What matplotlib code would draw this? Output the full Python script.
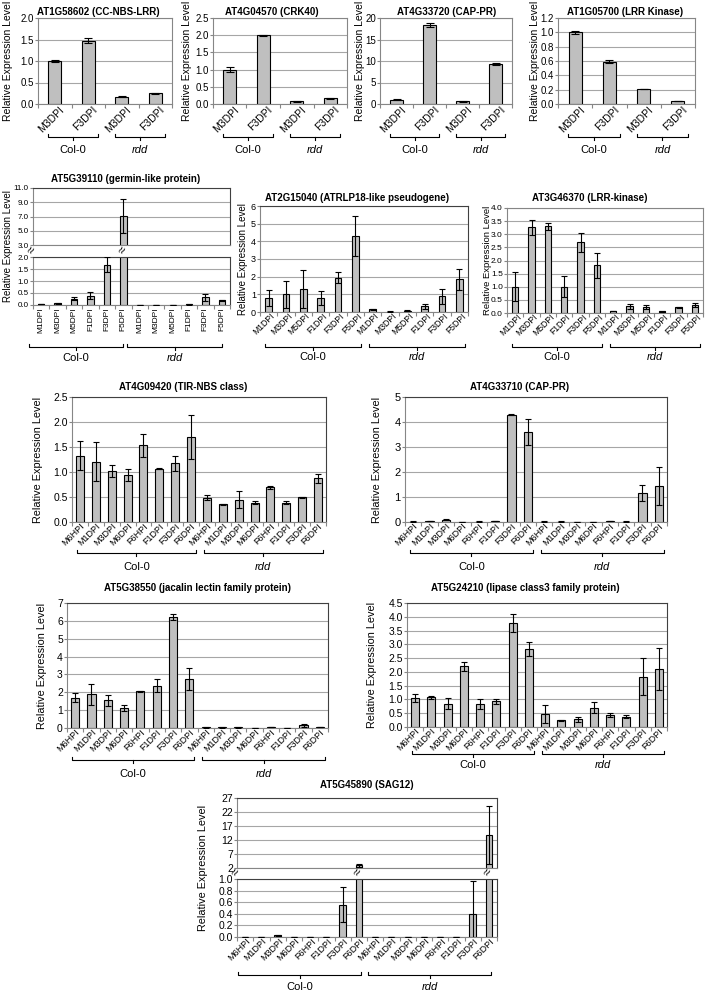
import numpy as np
import matplotlib
matplotlib.use('Agg')
import matplotlib.pyplot as plt
from matplotlib.transforms import blended_transform_factory, ScaledTranslation

plt.rcParams['font.family'] = ['Liberation Sans', 'DejaVu Sans']

# ---------------- data ----------------
lab_short = ['M3DPI', 'F3DPI', 'M3DPI', 'F3DPI']
lab_dpi = ['M1DPI', 'M3DPI', 'M5DPI', 'F1DPI', 'F3DPI', 'F5DPI'] * 2
lab_hpi = ['M6HPI', 'M1DPI', 'M3DPI', 'M6DPI', 'F6HPI', 'F1DPI', 'F3DPI', 'F6DPI'] * 2

# top row (M3DPI / F3DPI, Col-0 then rdd)
at1g58602 = [1.0, 1.47, 0.17, 0.25]
at1g58602_err = [0.02, 0.06, 0.01, 0.01]
at4g04570 = [1.0, 2.0, 0.08, 0.16]
at4g04570_err = [0.08, 0.01, 0.01, 0.02]
at4g33720 = [1.0, 18.4, 0.6, 9.3]
at4g33720_err = [0.05, 0.4, 0.05, 0.3]
at1g05700 = [1.0, 0.59, 0.21, 0.04]
at1g05700_err = [0.02, 0.02, 0.005, 0.005]

# second row (1/3/5 DPI)
at5g39110 = [0.05, 0.08, 0.27, 0.38, 1.68, 7.1, 0.0, 0.0, 0.0, 0.03, 0.32, 0.2]
at5g39110_err = [0.01, 0.02, 0.08, 0.15, 0.3, 2.4, 0, 0, 0, 0.01, 0.14, 0.02]
at2g15040 = [0.8, 1.0, 1.3, 0.8, 1.95, 4.3, 0.15, 0.02, 0.07, 0.33, 0.9, 1.85]
at2g15040_err = [0.45, 0.78, 1.05, 0.4, 0.33, 1.12, 0.03, 0.01, 0.02, 0.15, 0.42, 0.58]
at3g46370 = [1.0, 3.27, 3.3, 1.0, 2.7, 1.82, 0.07, 0.25, 0.23, 0.06, 0.22, 0.3]
at3g46370_err = [0.55, 0.28, 0.12, 0.4, 0.36, 0.48, 0.01, 0.1, 0.07, 0.01, 0.02, 0.07]

# 6HPI - 6DPI panels
at4g09420 = [1.33, 1.21, 1.02, 0.94, 1.54, 1.07, 1.18, 1.71, 0.49, 0.36, 0.45, 0.39, 0.70, 0.39, 0.50, 0.88]
at4g09420_err = [0.29, 0.39, 0.12, 0.12, 0.23, 0.01, 0.15, 0.44, 0.05, 0.01, 0.17, 0.03, 0.03, 0.03, 0.01, 0.09]
at4g33710 = [0.02, 0.03, 0.1, 0.0, 0.02, 0.04, 4.3, 3.62, 0.02, 0.02, 0.01, 0.01, 0.03, 0.02, 1.15, 1.45]
at4g33710_err = [0.005, 0.005, 0.03, 0, 0.005, 0.01, 0.02, 0.52, 0.005, 0.005, 0, 0, 0.005, 0.005, 0.32, 0.77]
at5g38550 = [1.7, 1.88, 1.55, 1.13, 2.05, 2.37, 6.2, 2.75, 0.03, 0.03, 0.03, 0.01, 0.04, 0.02, 0.15, 0.04]
at5g38550_err = [0.27, 0.58, 0.32, 0.15, 0.01, 0.35, 0.17, 0.6, 0.005, 0.005, 0.005, 0, 0.01, 0.005, 0.08, 0.01]
at5g24210 = [1.05, 1.08, 0.85, 2.2, 0.82, 0.93, 3.77, 2.83, 0.47, 0.25, 0.28, 0.7, 0.43, 0.38, 1.83, 2.1]
at5g24210_err = [0.15, 0.05, 0.2, 0.15, 0.18, 0.1, 0.33, 0.27, 0.32, 0.02, 0.1, 0.2, 0.06, 0.06, 0.68, 0.77]
at5g45890 = [0.005, 0.0, 0.03, 0.0, 0.002, 0.005, 0.56, 2.9, 0.0, 0.005, 0.003, 0.0, 0.003, 0.002, 0.4, 13.8]
at5g45890_err = [0, 0, 0.01, 0, 0, 0, 0.3, 0.5, 0, 0, 0, 0, 0, 0, 0.56, 10.2]

YLAB = 'Relative Expression Level'
BAR = '#BFBFBF'
GRID = '#A6A6A6'
SPINE = '#868686'

W, H = 709, 992
fig = plt.figure(figsize=(W / 100, H / 100), dpi=100)


def fy(ypx):
    return 1 - ypx / H


def add_ax(x0, y0, x1, y1):
    return fig.add_axes([x0 / W, 1 - y1 / H, (x1 - x0) / W, (y1 - y0) / H])


def bars(ax, vals, errs, width, cap):
    x = np.arange(len(vals))
    ax.bar(x, vals, width, color=BAR, edgecolor='black', linewidth=0.8, zorder=2)
    ax.errorbar(x, vals, yerr=errs, fmt='none', ecolor='black', elinewidth=0.8,
                capsize=cap, capthick=0.8, zorder=3)
    ax.set_xlim(-0.5, len(vals) - 0.5)


def yaxis(ax, lo, hi, step, fmt, fs, frame=SPINE):
    ticks = np.arange(lo, hi + step / 2, step)
    ax.set_ylim(lo, hi)
    ax.set_yticks(ticks)
    ax.set_yticklabels([fmt.format(t) for t in ticks], fontsize=fs)
    ax.yaxis.grid(True, color=GRID, lw=0.8)
    ax.set_axisbelow(True)
    ax.tick_params(axis='y', length=2, width=0.8, color=SPINE, pad=1)
    for s in ('left', 'bottom'):
        ax.spines[s].set_color(SPINE)
    for s in ('top', 'right'):
        ax.spines[s].set_color(frame)


def xaxis(ax, labels, fs, rot=45, dx=0, pad=3):
    n = len(labels)
    ax.set_xticks(np.arange(n))
    ax.set_xticks(np.arange(n + 1) - 0.5, minor=True)
    ax.tick_params(axis='x', which='major', length=0, pad=pad)
    ax.tick_params(axis='x', which='minor', length=3, width=0.8, color=SPINE)
    if rot == 90:
        tl = ax.set_xticklabels(labels, fontsize=fs, rotation=90, ha='center', va='top')
    else:
        tl = ax.set_xticklabels(labels, fontsize=fs, rotation=rot, ha='right',
                                va='center', rotation_mode='anchor')
    off = ScaledTranslation(dx / 100, 0, fig.dpi_scale_trans)
    for t in tl:
        t.set_transform(t.get_transform() + off)


def no_x(ax):
    ax.set_xticks([])
    ax.set_xticks([], minor=True)


def bracket(ax, i0, i1, ypx, lab_ypx, text, fs=8, lo=-0.2, hi=0.3):
    tr = blended_transform_factory(ax.transData, fig.transFigure)
    a, b = i0 + lo, i1 + hi
    y, d = fy(ypx), 3 / H
    ax.plot([a, a, b, b], [y + d, y, y, y + d], color='black', lw=0.8,
            transform=tr, clip_on=False)
    m = (a + b) / 2
    ax.plot([m, m], [y, y - d], color='black', lw=0.8, transform=tr, clip_on=False)
    ax.text(m, fy(lab_ypx), text, transform=tr, ha='center', va='center',
            fontsize=fs, style='italic' if text == 'rdd' else 'normal')


def groups(ax, n, ypx, lab_ypx, fs=8, lo=-0.2, hi=0.3):
    h = n // 2
    bracket(ax, 0, h - 1, ypx, lab_ypx, 'Col-0', fs, lo, hi)
    bracket(ax, h, n - 1, ypx, lab_ypx, 'rdd', fs, lo, hi)


def title(xpx, ypx, text):
    fig.text(xpx / W, fy(ypx), text, ha='center', va='center', fontsize=7, fontweight='bold')


def ylabel(xpx, ypx, fs=7.5):
    fig.text(xpx / W, fy(ypx), YLAB, rotation=90, ha='center', va='center', fontsize=fs)


def brk(ax, x, ypx):
    tr = blended_transform_factory(ax.transData, fig.transFigure)
    ax.text(x, fy(ypx), '≈', transform=tr, ha='center', va='center', fontsize=9,
            rotation=60, zorder=5, clip_on=False)


# ---------------- top row ----------------
top = [
    (at1g58602, at1g58602_err, (38, 172), 2.0, 0.5, '{:.1f}', 'AT1G58602 (CC-NBS-LRR)', 98, 8),
    (at4g04570, at4g04570_err, (213, 347), 2.5, 0.5, '{:.1f}', 'AT4G04570 (CRK40)', 272, 187),
    (at4g33720, at4g33720_err, (380, 512), 20, 5, '{:.0f}', 'AT4G33720 (CAP-PR)', 447, 360),
    (at1g05700, at1g05700_err, (558, 695), 1.2, 0.2, '{:.1f}', 'AT1G05700 (LRR Kinase)', 625, 535),
]
for vals, errs, (x0, x1), hi, step, fmt, ttl, tx, lx in top:
    ax = add_ax(x0, 18, x1, 104)
    bars(ax, vals, errs, 0.38, 3)
    yaxis(ax, 0, hi, step, fmt, 7)
    xaxis(ax, lab_short, 7.5, dx=8, pad=3)
    groups(ax, 4, 137, 150)
    title(tx, 12, ttl)
    ylabel(lx, 61, 7.5)

# ---------------- second row ----------------
# germin-like protein, broken axis
axt = add_ax(33, 188, 230, 245)
axb = add_ax(33, 257, 230, 305)
for a in (axt, axb):
    bars(a, at5g39110, at5g39110_err, 0.4, 2.5)
yaxis(axt, 3, 11, 2, '{:.1f}', 5.8, frame='#404040')
yaxis(axb, 0, 2, 0.5, '{:.1f}', 5.8, frame='#404040')
no_x(axt)
xaxis(axb, lab_dpi, 6, rot=90, pad=2)
groups(axb, 12, 347, 358, lo=-0.75, hi=0.0)
brk(axb, -0.5, 251)
brk(axb, 5, 251)
title(126, 179, 'AT5G39110 (germin-like protein)')
ylabel(8, 246, 7)

ax = add_ax(260, 206, 468, 312)
bars(ax, at2g15040, at2g15040_err, 0.4, 2.5)
yaxis(ax, 0, 6, 1, '{:.0f}', 6.5, frame='#404040')
xaxis(ax, lab_dpi, 6.2, dx=5, pad=2)
groups(ax, 12, 347, 357)
title(357, 198, 'AT2G15040 (ATRLP18-like pseudogene)')
ylabel(243, 259, 7)

ax = add_ax(507, 208, 703, 313)
bars(ax, at3g46370, at3g46370_err, 0.4, 2.5)
yaxis(ax, 0, 4, 0.5, '{:.1f}', 6)
xaxis(ax, lab_dpi, 6.2, dx=5, pad=2)
groups(ax, 12, 347, 357)
title(590, 198, 'AT3G46370 (LRR-kinase)')
ylabel(487, 260, 6.8)

# ---------------- third / fourth rows ----------------
mid = [
    (at4g09420, at4g09420_err, (72, 397, 326, 522), 2.5, 0.5, '{:.1f}', 7.5,
     'AT4G09420 (TIR-NBS class)', (183, 387), (38, 460), (553, 567)),
    (at4g33710, at4g33710_err, (405, 397, 667, 522), 5, 1, '{:.0f}', 8,
     'AT4G33710 (CAP-PR)', (520, 387), (377, 460), (553, 567)),
    (at5g38550, at5g38550_err, (67, 603, 328, 728), 7, 1, '{:.0f}', 7.5,
     'AT5G38550 (jacalin lectin family protein)', (197, 588), (42, 666), (760, 774)),
    (at5g24210, at5g24210_err, (407, 603, 667, 727), 4.5, 0.5, '{:.1f}', 7.5,
     'AT5G24210 (lipase class3 family protein)', (525, 588), (372, 665), (754, 765)),
]
for vals, errs, rect, hi, step, fmt, fs, ttl, tpos, lpos, bpos in mid:
    ax = add_ax(*rect)
    bars(ax, vals, errs, 0.5, 2.5)
    yaxis(ax, 0, hi, step, fmt, fs, frame='#404040')
    xaxis(ax, lab_hpi, 6.5, dx=3, pad=2)
    groups(ax, 16, bpos[0], bpos[1])
    title(*tpos, ttl)
    ylabel(*lpos, 7.8)

# ---------------- bottom: SAG12, broken axis ----------------
axt = add_ax(237, 798, 497, 868)
axb = add_ax(237, 879, 497, 937)
for a in (axt, axb):
    bars(a, at5g45890, at5g45890_err, 0.4, 2.5)
yaxis(axt, 2, 27, 5, '{:.0f}', 7.5, frame='#404040')
yaxis(axb, 0, 1.0, 0.2, '{:.1f}', 7.5, frame='#404040')
no_x(axt)
xaxis(axb, lab_hpi, 6.5, dx=4, pad=2)
groups(axb, 16, 975, 987, lo=-0.45, hi=0.15)
brk(axb, -0.5, 873)
brk(axb, 7, 873)
brk(axb, 15, 873)
title(367, 785, 'AT5G45890 (SAG12)')
ylabel(203, 868, 7.8)

fig.savefig('out.png', dpi=100)
